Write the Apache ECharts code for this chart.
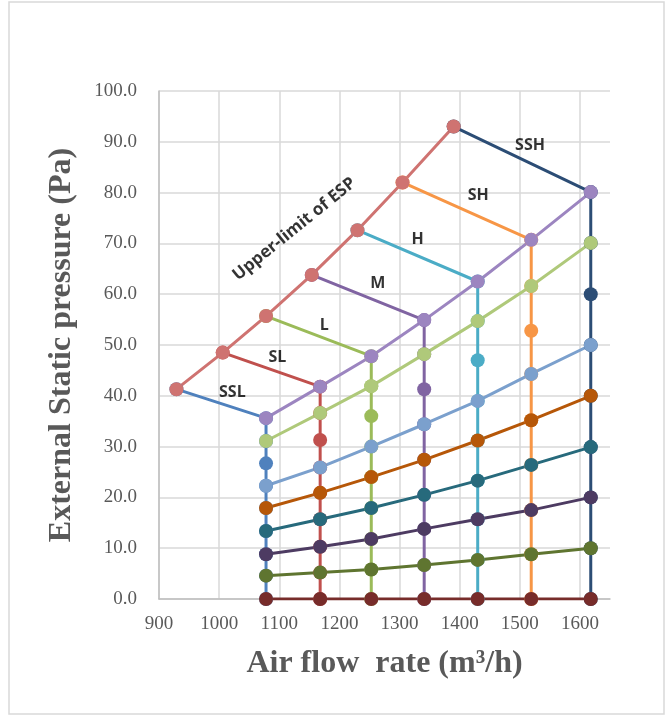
<!DOCTYPE html>
<html>
<head>
<meta charset="utf-8">
<script src="https://cdn.jsdelivr.net/npm/echarts@6/dist/echarts.min.js"></script>
<style>html,body{margin:0;padding:0;background:#fff;}#c{width:668px;height:717px;}</style>
</head>
<body>
<div id="c"></div>
<script>
// ---- data ----
const xTicks = [900, 1000, 1100, 1200, 1300, 1400, 1500, 1600];
const colX = [1078, 1168, 1253, 1341, 1430, 1519, 1618];
const upperX = [929, 1006, 1078, 1154, 1230, 1305, 1390];
const upperY = [41.3, 48.5, 55.7, 63.8, 72.6, 82.0, 93.0];
const fanNames = ['SSL', 'SL', 'L', 'M', 'H', 'SH', 'SSH'];
const curvePurple = [35.6, 41.8, 47.8, 54.9, 62.5, 70.7, 80.1];
const curveLightGreen = [31.1, 36.6, 41.9, 48.2, 54.7, 61.6, 70.1];
const fanMid = [26.7, 31.3, 36.0, 41.3, 47.0, 52.8, 60.0];
const curveLightBlue = [22.3, 25.9, 30.0, 34.4, 39.0, 44.3, 50.0];
const curveOrange = [17.9, 20.9, 24.0, 27.4, 31.2, 35.2, 40.0];
const curveTeal = [13.4, 15.7, 17.9, 20.5, 23.3, 26.4, 29.9];
const curveDarkPurple = [8.8, 10.3, 11.8, 13.8, 15.7, 17.5, 20.0];
const curveOlive = [4.6, 5.2, 5.8, 6.7, 7.7, 8.8, 10.0];
const curveZero = [0, 0, 0, 0, 0, 0, 0];
const upperLabel = 'Upper-limit of ESP';
// annotation anchors (data coords) for text labels
const fanLabelX = [1022, 1097, 1175, 1264, 1330, 1431, 1517];
const fanLabelY = [40.6, 47.6, 53.9, 62.2, 70.7, 79.5, 89.2];
const upperLabelPos = [1125, 72.8];

// ---- styles ----
const fanColors = ['#4F81BD', '#C0504D', '#9BBB59', '#8064A2', '#4BACC6', '#F79646', '#2C4D75'];
const curves = [
  {d: curveZero, c: '#772C2A'},
  {d: curveOlive, c: '#5F7530'},
  {d: curveDarkPurple, c: '#4D3B62'},
  {d: curveTeal, c: '#276A7C'},
  {d: curveOrange, c: '#B65708'},
  {d: curveLightBlue, c: '#7BA0CD'},
  {d: curveLightGreen, c: '#AFC97A'},
  {d: curvePurple, c: '#9C85C0'}
];
const upperColor = '#CF7371';

const series = [];
fanNames.forEach((n, i) => {
  const pts = [[upperX[i], upperY[i]],
    [colX[i], curvePurple[i]], [colX[i], curveLightGreen[i]], [colX[i], fanMid[i]],
    [colX[i], curveLightBlue[i]], [colX[i], curveOrange[i]], [colX[i], curveTeal[i]],
    [colX[i], curveDarkPurple[i]], [colX[i], curveOlive[i]], [colX[i], curveZero[i]]];
  series.push({
    name: n, type: 'line', data: pts, symbol: 'circle', symbolSize: 14,
    lineStyle: {width: 3, color: fanColors[i]}, itemStyle: {color: fanColors[i]}
  });
});
curves.forEach((cv, k) => {
  series.push({
    type: 'line', data: colX.map((x, i) => [x, cv.d[i]]), symbol: 'circle', symbolSize: 14,
    lineStyle: {width: 3, color: cv.c}, itemStyle: {color: cv.c}
  });
});
series.push({
  name: upperLabel, type: 'line', data: upperX.map((x, i) => [x, upperY[i]]),
  symbol: 'circle', symbolSize: 14,
  lineStyle: {width: 3, color: upperColor}, itemStyle: {color: upperColor}
});
const annData = fanNames.map((n, i) => ({name: n, value: [fanLabelX[i], fanLabelY[i]]}));
annData.push({name: upperLabel, value: upperLabelPos, label: {rotate: 39, fontSize: 17}});
series.push({
  type: 'scatter', data: annData, symbolSize: 0, silent: true, z: 10,
  label: {show: true, position: 'inside', formatter: p => p.name,
    fontFamily: 'Open Sans', fontWeight: 'bold', fontSize: 16, color: '#000'}
});

const chart = echarts.init(document.getElementById('c'));
chart.setOption({
  animation: false,
  grid: {left: 159, right: 58, top: 91, bottom: 118},
  graphic: [{type: 'rect', shape: {x: 9, y: 2, width: 655, height: 712},
    style: {fill: 'none', stroke: '#D9D9D9', lineWidth: 1.5}, silent: true, z: -1}],
  xAxis: {
    type: 'value', min: xTicks[0], max: 1650, interval: 100,
    name: 'Air flow  rate (m\u00B3/h)', nameLocation: 'middle', nameGap: 49,
    nameTextStyle: {fontFamily: 'Liberation Serif', fontWeight: 'bold', fontSize: 32, color: '#595959'},
    axisLine: {show: true, lineStyle: {color: '#BFBFBF', width: 1.5}},
    axisTick: {show: false},
    axisLabel: {margin: 16, showMaxLabel: false, formatter: v => String(v),
      fontFamily: 'Liberation Serif', fontSize: 19, color: '#595959'},
    splitLine: {show: true, showMaxLine: false, lineStyle: {color: '#D9D9D9', width: 1.5}}
  },
  yAxis: {
    type: 'value', min: 0, max: 100, interval: 10,
    name: 'External Static pressure (Pa)', nameLocation: 'middle', nameGap: 81,
    nameTextStyle: {fontFamily: 'Liberation Serif', fontWeight: 'bold', fontSize: 32, color: '#595959'},
    axisLine: {show: true, lineStyle: {color: '#BFBFBF', width: 1.5}},
    axisTick: {show: false},
    axisLabel: {margin: 22, formatter: v => v.toFixed(1), fontFamily: 'Liberation Serif', fontSize: 19, color: '#595959'},
    splitLine: {show: true, lineStyle: {color: '#D9D9D9', width: 1.5}}
  },
  series: series
});
</script>
</body>
</html>
